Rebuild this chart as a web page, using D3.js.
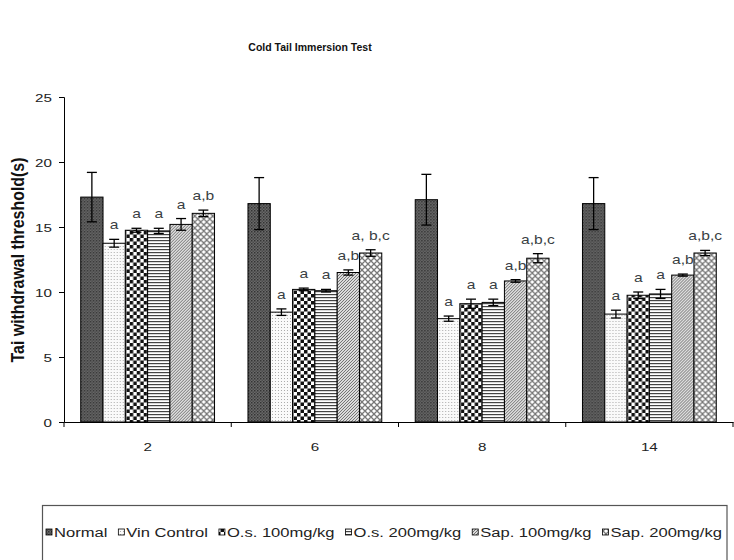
<!DOCTYPE html>
<html>
<head>
<meta charset="utf-8">
<script src="https://cdn.jsdelivr.net/npm/d3@7"></script>
<style>
  body { margin: 0; background: #fff; }
  svg { display: block; }
  text { font-family: "Liberation Sans", Arial, sans-serif; }
</style>
</head>
<body>
<svg id="chart" width="734" height="560"></svg>
<script>
// ---- data ----
const categories = ["2", "6", "8", "14"];
const seriesNames = ["Normal", "Vin Control", "O.s. 100mg/kg", "O.s. 200mg/kg", "Sap. 100mg/kg", "Sap. 200mg/kg"];
const normalValues = [17.3, 16.8, 17.1, 16.8];
const normalErrors = [1.9, 2.0, 1.95, 2.0];
const vinValues = [13.75, 8.45, 7.95, 8.3];
const vinErrors = [0.3, 0.25, 0.2, 0.3];
const os100Values = [14.75, 10.2, 9.1, 9.75];
const os100Errors = [0.15, 0.1, 0.35, 0.25];
const os200Values = [14.7, 10.1, 9.2, 9.85];
const os200Errors = [0.2, 0.1, 0.25, 0.35];
const sap100Values = [15.2, 11.5, 10.85, 11.3];
const sap100Errors = [0.45, 0.2, 0.1, 0.08];
const sap200Values = [16.05, 13.0, 12.6, 13.0];
const sap200Errors = [0.25, 0.25, 0.35, 0.2];
const normalLabels = ["", "", "", ""];
const vinLabels = ["a", "a", "a", "a"];
const os100Labels = ["a", "a", "a", "a"];
const os200Labels = ["a", "a", "a", "a"];
const sap100Labels = ["a", "a,b", "a,b", "a,b"];
const sap200Labels = ["a,b", "a, b,c", "a,b,c", "a,b,c"];
const yTicks = [0, 5, 10, 15, 20, 25];
const titleText = "Cold Tail Immersion Test";
const yAxisTitle = "Tai withdrawal threshold(s)";

const seriesValues = [normalValues, vinValues, os100Values, os200Values, sap100Values, sap200Values];
const seriesErrors = [normalErrors, vinErrors, os100Errors, os200Errors, sap100Errors, sap200Errors];
const seriesLabels = [normalLabels, vinLabels, os100Labels, os200Labels, sap100Labels, sap200Labels];

// ---- layout ----
const SX = 1.38; // horizontal stretch of the source picture's text
const svg = d3.select("#chart");
const plot = { left: 64, right: 733, top: 97, bottom: 422 };

const x0 = d3.scaleBand().domain(categories).range([plot.left, plot.right]).paddingInner(0.2).paddingOuter(0.1);
const x1 = d3.scaleBand().domain(d3.range(seriesNames.length)).range([0, x0.bandwidth()]);
const y = d3.scaleLinear().domain([0, 25]).range([plot.bottom, plot.top]);

// ---- patterns ----
const defs = svg.append("defs");
function pat(id, w, h, draw) {
  const p = defs.append("pattern").attr("id", id).attr("patternUnits", "userSpaceOnUse").attr("width", w).attr("height", h);
  draw(p);
}
pat("p0", 3, 3, p => {
  p.append("rect").attr("width", 3).attr("height", 3).attr("fill", "#6a6a6a");
  p.append("rect").attr("width", 1.5).attr("height", 1.5).attr("fill", "#333");
  p.append("rect").attr("x", 1.5).attr("y", 1.5).attr("width", 1.5).attr("height", 1.5).attr("fill", "#4a4a4a");
});
pat("p1", 3, 3, p => {
  p.append("rect").attr("width", 3).attr("height", 3).attr("fill", "#fafafa");
  p.append("rect").attr("width", 1).attr("height", 1).attr("fill", "#aaa");
});
pat("p2", 7, 7, p => {
  p.append("rect").attr("width", 7).attr("height", 7).attr("fill", "#fff");
  p.append("rect").attr("width", 3.5).attr("height", 3.5).attr("fill", "#111");
  p.append("rect").attr("x", 3.5).attr("y", 3.5).attr("width", 3.5).attr("height", 3.5).attr("fill", "#111");
});
pat("p3", 3, 3, p => {
  p.append("rect").attr("width", 3).attr("height", 3).attr("fill", "#fff");
  p.append("rect").attr("width", 3).attr("height", 1.2).attr("fill", "#444");
});
pat("p4", 3, 3, p => {
  p.append("rect").attr("width", 3).attr("height", 3).attr("fill", "#ddd");
  p.append("path").attr("d", "M-1,1 L1,-1 M0,3 L3,0 M2,4 L4,2").attr("stroke", "#666").attr("stroke-width", 0.9);
});
pat("p5", 6, 6, p => {
  p.append("rect").attr("width", 6).attr("height", 6).attr("fill", "#fff");
  p.append("path").attr("d", "M0,0 L6,6 M6,0 L0,6 M-3,3 L3,-3 M3,9 L9,3 M-3,3 L3,9 M3,-3 L9,3").attr("stroke", "#777").attr("stroke-width", 1.3);
});

// ---- title ----
svg.append("text").attr("x", 310).attr("y", 51).attr("text-anchor", "middle")
  .attr("font-size", 10.5).attr("font-weight", "bold").attr("fill", "#111").text(titleText);

// ---- axes ----
const yAxis = d3.axisLeft(y).tickValues(yTicks).tickSize(5).tickPadding(0).tickFormat(d3.format("d"));
const gy = svg.append("g").attr("transform", `translate(${plot.left},0)`).call(yAxis);
gy.select(".domain").attr("stroke", "#000").attr("stroke-width", 1);
gy.selectAll(".tick line").attr("stroke", "#000");
gy.selectAll(".tick text").remove();
gy.selectAll(".tick").append("g").attr("transform", `translate(-12,4) scale(${SX},1)`)
  .append("text").attr("text-anchor", "end").attr("font-size", 11).attr("fill", "#222").text(d => d);

const xAxis = d3.axisBottom(x0).tickSize(0).tickPadding(0);
const gx = svg.append("g").attr("transform", `translate(0,${plot.bottom})`).call(xAxis);
gx.select(".domain").attr("stroke", "#000").attr("stroke-width", 1);
gx.selectAll(".tick text").remove();
gx.selectAll(".tick").append("g").attr("transform", `translate(0,29) scale(${SX},1)`)
  .append("text").attr("text-anchor", "middle").attr("font-size", 11).attr("fill", "#222").text(d => d);
// boundary ticks between categories
const step = x0.step();
const boundaries = d3.range(categories.length + 1).map(i => plot.left + i * step);
gx.selectAll(".bt").data(boundaries).join("line").attr("class", "bt")
  .attr("x1", d => d).attr("x2", d => d).attr("y1", 0).attr("y2", 5).attr("stroke", "#000");

// y axis title
svg.append("g").attr("transform", `translate(24,260) scale(${SX},1) rotate(-90)`)
  .append("text").attr("text-anchor", "middle").attr("font-size", 13).attr("font-weight", "bold")
  .attr("textLength", 205).attr("lengthAdjust", "spacingAndGlyphs")
  .attr("fill", "#111").text(yAxisTitle);

// ---- bars ----
const groups = svg.append("g").selectAll("g").data(categories).join("g")
  .attr("transform", d => `translate(${x0(d)},0)`);

groups.each(function(cat, ci) {
  const g = d3.select(this);
  seriesNames.forEach((name, si) => {
    const v = seriesValues[si][ci], e = seriesErrors[si][ci];
    const bx = x1(si), bw = x1.bandwidth();
    g.append("rect").attr("x", bx).attr("y", y(v)).attr("width", bw).attr("height", y(0) - y(v))
      .attr("fill", `url(#p${si})`).attr("stroke", "#000").attr("stroke-width", 1);
    const cx = bx + bw / 2;
    g.append("line").attr("x1", cx).attr("x2", cx).attr("y1", y(v + e)).attr("y2", y(v - e))
      .attr("stroke", "#000").attr("stroke-width", 1.3);
    [v + e, v - e].forEach(t => g.append("line").attr("x1", cx - 5).attr("x2", cx + 5)
      .attr("y1", y(t)).attr("y2", y(t)).attr("stroke", "#000").attr("stroke-width", 1.3));
    const lab = seriesLabels[si][ci];
    if (lab) {
      g.append("g").attr("transform", `translate(${cx},${y(v + e) - 10}) scale(1.25,1)`)
        .append("text").attr("text-anchor", "middle").attr("font-size", 12.5).attr("fill", "#3a3f44").text(lab);
    }
  });
});

// ---- legend ----
svg.append("rect").attr("x", 42.5).attr("y", 505.5).attr("width", 684.5).attr("height", 80)
  .attr("fill", "none").attr("stroke", "#555").attr("stroke-width", 1.2);
const leg = svg.append("g");
let lx = 46;
seriesNames.forEach((name, si) => {
  leg.append("rect").attr("x", lx).attr("y", 529).attr("width", 6).attr("height", 6)
    .attr("fill", `url(#p${si})`).attr("stroke", "#000").attr("stroke-width", 0.8);
  const tg = leg.append("g").attr("transform", `translate(${lx + 8},536.5) scale(${SX},1)`);
  const t = tg.append("text").attr("font-size", 12).attr("fill", "#222").text(name);
  const w = t.node().getComputedTextLength() * SX;
  lx += 8 + w + 11;
});
</script>
</body>
</html>
